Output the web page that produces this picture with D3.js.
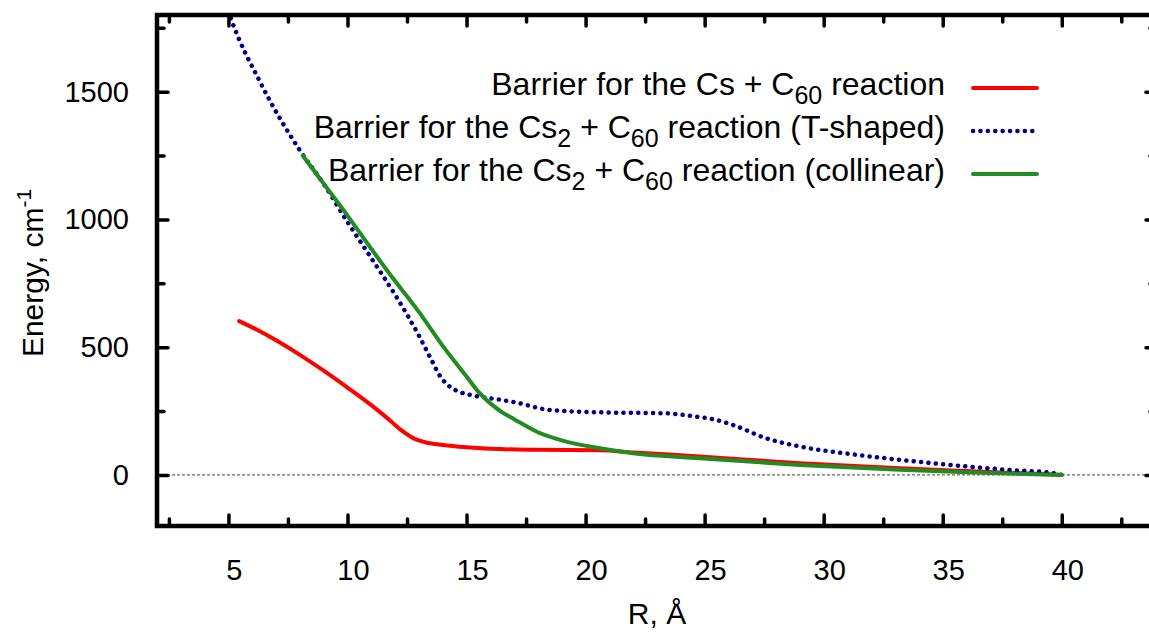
<!DOCTYPE html>
<html>
<head>
<meta charset="utf-8">
<script src="https://cdn.jsdelivr.net/npm/d3@7"></script>
<style>
  body { margin: 0; background: #fff; }
  svg { display: block; font-family: "Liberation Sans", Arial, sans-serif; }
</style>
</head>
<body>
<script>
// data (R in Angstrom, energy in cm^-1)
var csR    = [5.45, 6.2, 7, 8, 9, 10, 11, 11.8, 12.3, 12.8, 13.3, 14, 15, 16.4, 18, 20.6, 22, 24.8, 29, 33.2, 36, 40];
var csE    = [602, 568, 527, 470, 408, 342, 273, 212, 172, 142, 127, 117, 108, 101, 98, 96, 88, 72, 46, 26, 15, 0];

var tR     = [5.0, 5.13, 6.3, 8, 9, 10, 11.06, 12, 13, 13.5, 13.9, 14.3, 14.7, 15.2, 16, 17, 18.5, 20.6, 23.4, 24.5, 25.5, 26.2, 27.6, 29, 31.1, 33.2, 36, 38, 39.5, 40];
var tE     = [1815, 1780, 1543, 1270, 1139, 990, 840, 705, 545, 455, 385, 345, 325, 312, 300, 285, 254, 245, 241, 230, 215, 195, 143, 111, 82, 59, 33, 18, 9, 0];

var colR   = [8.12, 9, 10, 11, 11.76, 13, 14, 15, 15.5, 16, 16.5, 17, 18, 19, 20.6, 22, 24.8, 29, 33.2, 36, 40];
var colE   = [1250, 1140, 1015, 885, 788, 638, 505, 385, 325, 280, 245, 218, 167, 135, 104, 85, 65, 39, 20, 10, 0];

var xMajor = [5, 10, 15, 20, 25, 30, 35, 40];
var xMinor = [2.5, 7.5, 12.5, 17.5, 22.5, 27.5, 32.5, 37.5, 42.5];
var yMajor = [0, 500, 1000, 1500];
var yMinor = [250, 750, 1250, 1750];

var width = 1149, height = 634;
var pLeft = 157, pTop = 15, pRight = 1157, pBottom = 526;

var svg = d3.select("body").append("svg")
    .attr("width", width)
    .attr("height", height);

var x = d3.scaleLinear().domain([2, 44]).range([pLeft, pRight]);
var y = d3.scaleLinear().domain([-200, 1800]).range([pBottom, pTop]);

svg.append("clipPath").attr("id", "plot")
  .append("rect")
    .attr("x", pLeft).attr("y", pTop)
    .attr("width", pRight - pLeft).attr("height", pBottom - pTop);

// zero line
svg.append("line")
    .attr("x1", pLeft).attr("x2", pRight)
    .attr("y1", y(0)).attr("y2", y(0))
    .attr("stroke", "#444")
    .attr("stroke-width", 1)
    .attr("stroke-dasharray", "3,2");

var line = d3.line()
    .x(function (d) { return x(d[0]); })
    .y(function (d) { return y(d[1]); })
    .curve(d3.curveMonotoneX);

var series = [
  { r: csR,  e: csE,  color: "#ff0000", dash: null },
  { r: tR,   e: tE,   color: "#00008b", dash: "0.1,7.3" },
  { r: colR, e: colE, color: "#228b22", dash: null }
];

var curves = svg.append("g").attr("clip-path", "url(#plot)");
// red first, then dotted blue, green on top
series.forEach(function (s) {
  curves.append("path")
      .datum(d3.zip(s.r, s.e))
      .attr("d", line)
      .attr("fill", "none")
      .attr("stroke", s.color)
      .attr("stroke-width", s.dash ? 4.5 : 4)
      .attr("stroke-linecap", "round")
      .attr("stroke-dasharray", s.dash);
});

// ticks, inward on all four sides (gnuplot mirror style)
function ticks(axis, pos, vals, len) {
  var g = svg.append("g")
      .attr("transform", pos)
      .call(axis.tickValues(vals).tickSize(-len).tickFormat(""));
  g.select(".domain").remove();
  g.selectAll(".tick line")
      .attr("stroke", "#000")
      .attr("stroke-width", 3.5)
      .attr("stroke-linecap", "round");
  return g;
}
ticks(d3.axisBottom(x), "translate(0," + pBottom + ")", xMajor, 11);
ticks(d3.axisBottom(x), "translate(0," + pBottom + ")", xMinor, 7);
ticks(d3.axisTop(x), "translate(0," + pTop + ")", xMajor, 11);
ticks(d3.axisTop(x), "translate(0," + pTop + ")", xMinor, 7);
ticks(d3.axisLeft(y), "translate(" + pLeft + ",0)", yMajor, 11);
ticks(d3.axisLeft(y), "translate(" + pLeft + ",0)", yMinor, 7);
ticks(d3.axisRight(y), "translate(" + pRight + ",0)", yMajor, 11);
ticks(d3.axisRight(y), "translate(" + pRight + ",0)", yMinor, 7);

// border
svg.append("rect")
    .attr("x", pLeft).attr("y", pTop)
    .attr("width", pRight - pLeft).attr("height", pBottom - pTop)
    .attr("fill", "none")
    .attr("stroke", "#000")
    .attr("stroke-width", 4.5);

// tick labels
svg.append("g").selectAll("text")
    .data(xMajor)
  .enter().append("text")
    .attr("x", function (d) { return x(d) + 6; })
    .attr("y", 580)
    .attr("text-anchor", "middle")
    .attr("font-size", 29)
    .text(function (d) { return d; });

svg.append("g").selectAll("text")
    .data(yMajor)
  .enter().append("text")
    .attr("x", 129)
    .attr("y", function (d) { return y(d) + 10; })
    .attr("text-anchor", "end")
    .attr("font-size", 29)
    .text(function (d) { return d; });

// axis titles
svg.append("text")
    .attr("x", (pLeft + pRight) / 2).attr("y", 624)
    .attr("text-anchor", "middle")
    .attr("font-size", 30)
    .text("R, Å");

var yl = svg.append("text")
    .attr("transform", "translate(43,273) rotate(-90)")
    .attr("text-anchor", "middle")
    .attr("font-size", 30);
yl.append("tspan").text("Energy, cm");
yl.append("tspan").attr("dy", -12).attr("font-size", 21).text("-1");

// legend
var legendRows = [
  [["Barrier for the Cs + C", 0], ["60", 1], [" reaction", 0]],
  [["Barrier for the Cs", 0], ["2", 1], [" + C", 0], ["60", 1], [" reaction (T-shaped)", 0]],
  [["Barrier for the Cs", 0], ["2", 1], [" + C", 0], ["60", 1], [" reaction (collinear)", 0]]
];
var legendY = [86, 129, 172];

legendRows.forEach(function (row, i) {
  var t = svg.append("text")
      .attr("x", 945)
      .attr("y", legendY[i] + 9)
      .attr("text-anchor", "end")
      .attr("font-size", 32);
  var sub = false;
  row.forEach(function (p) {
    var ts = t.append("tspan").text(p[0]);
    if (p[1] && !sub) { ts.attr("dy", 9).attr("font-size", 25); sub = true; }
    else if (p[1]) { ts.attr("font-size", 25); }
    else if (!p[1] && sub) { ts.attr("dy", -9); sub = false; }
  });
  var s = series[i];
  svg.append("line")
      .attr("x1", 973).attr("x2", 1037)
      .attr("y1", legendY[i] + 2).attr("y2", legendY[i] + 2)
      .attr("stroke", s.color)
      .attr("stroke-width", s.dash ? 4.5 : 4)
      .attr("stroke-linecap", "round")
      .attr("stroke-dasharray", s.dash);
});
</script>
</body>
</html>
